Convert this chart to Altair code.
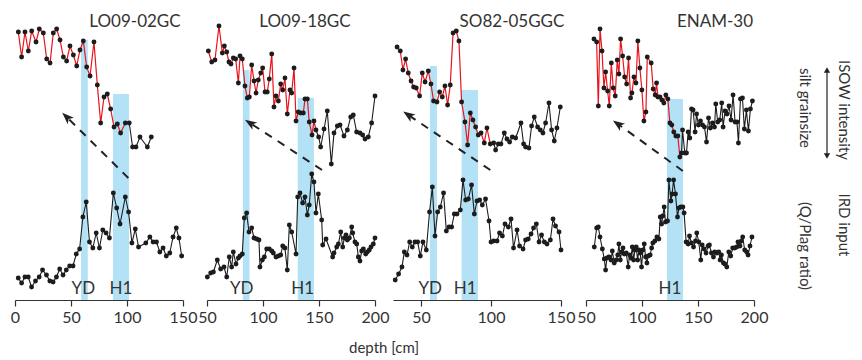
import altair as alt
import pandas as pd

FONT = "Lato"
TXT = "#333333"
BLUE = "#b3e2f6"
RED = "#e8141c"
DOT = "#1c1c1c"
H = 287
W = 168

# ---------------- data ----------------
cores = ["LO09-02GC", "LO09-18GC", "SO82-05GGC", "ENAM-30"]

p1_top_depth = [3.0, 5.9, 8.9, 11.9, 14.9, 18.8, 21.7, 25.3, 28.3, 31.3, 34.2, 37.2, 40.2, 43.2, 46.1, 49.1, 52.1, 55.1, 58.0, 61.0, 64.0, 67.0, 70.5, 73.5, 76.5, 79.5, 82.4, 85.4, 88.4, 91.4, 94.3, 98.5, 102.0, 105.0, 108.0, 111.6, 118.2, 121.7]
p1_top_val = [268, 243, 268, 249, 269, 258, 271, 267, 241, 237, 267, 271, 260, 243, 239, 254, 245, 234, 250, 259, 233, 224, 258, 215, 177, 203, 206, 191, 173, 176, 167, 177, 177, 153, 153, 163, 153, 163]
p1_bot_depth = [2.9, 5.9, 8.9, 11.8, 14.8, 18.3, 21.6, 24.6, 28.1, 31.1, 34.0, 37.0, 39.9, 42.9, 45.8, 48.8, 51.8, 54.7, 57.7, 60.6, 63.6, 66.5, 69.5, 72.5, 75.4, 78.4, 81.3, 84.3, 87.8, 90.8, 93.8, 98.5, 101.4, 104.4, 107.4, 110.3, 116.8, 120.4, 123.3, 126.3, 129.3, 132.2, 135.1, 138.2, 141.1, 144.0, 146.4, 148.8]
p1_bot_val = [22, 17, 23, 23, 13, 19, 23, 30, 25, 19, 18, 23, 31, 25, 30, 34, 34, 46, 51, 83, 98, 58, 52, 67, 52, 70, 67, 62, 107, 92, 76, 103, 88, 57, 71, 53, 57, 63, 58, 58, 48, 52, 44, 47, 63, 72, 62, 44]

p2_top_depth = [51.2, 54.2, 57.1, 60.7, 63.7, 65.5, 67.6, 69.6, 71.4, 73.5, 75.6, 78.0, 79.5, 81.5, 83.9, 86.0, 87.8, 89.9, 92.0, 93.8, 95.8, 98.0, 99.7, 101.8, 103.8, 105.6, 107.8, 109.8, 111.6, 113.7, 115.8, 117.6, 119.6, 121.7, 124.1, 125.6, 127.7, 129.5, 131.5, 133.7, 136.0, 137.5, 139.6, 141.3, 143.8, 145.5, 147.3, 149.7, 151.5, 154.5, 157.4, 161.0, 163.4, 166.4, 168.8, 172.3, 175.3, 178.3, 180.6, 183.6, 186.6, 189.0, 191.1, 194.0, 197.0, 200.0]
p2_top_val = [249, 238, 240, 274, 247, 254, 248, 238, 236, 242, 241, 217, 244, 241, 214, 202, 203, 235, 219, 207, 220, 227, 232, 208, 208, 221, 246, 193, 204, 199, 216, 210, 222, 186, 210, 207, 232, 179, 188, 187, 187, 201, 201, 178, 165, 179, 170, 163, 153, 171, 189, 136, 167, 174, 175, 164, 170, 183, 185, 168, 167, 165, 161, 163, 177, 204]
p2_bot_depth = [50.3, 53.3, 55.7, 59.2, 62.2, 65.2, 67.6, 69.9, 72.0, 73.5, 75.9, 78.0, 79.5, 81.5, 83.3, 85.4, 87.5, 89.9, 92.0, 94.4, 96.4, 97.3, 99.4, 101.2, 103.3, 105.6, 107.8, 109.2, 111.6, 113.7, 115.8, 117.6, 119.6, 121.7, 123.5, 125.6, 129.5, 131.0, 133.0, 135.4, 137.5, 139.6, 141.3, 143.5, 145.5, 147.3, 149.4, 152.4, 153.3, 156.3, 162.2, 163.4, 165.8, 167.3, 169.4, 171.2, 172.6, 174.1, 175.3, 177.1, 179.2, 180.1, 182.1, 183.7, 185.1, 186.6, 188.1, 189.6, 191.7, 193.1, 194.9, 196.4, 198.5, 200.0]
p2_bot_val = [23, 27, 28, 40, 31, 33, 23, 43, 33, 48, 36, 42, 44, 46, 82, 87, 68, 72, 62, 61, 60, 33, 40, 43, 51, 51, 49, 47, 43, 44, 45, 54, 52, 30, 75, 68, 46, 103, 107, 97, 103, 85, 95, 126, 118, 87, 106, 80, 55, 61, 43, 47, 53, 56, 68, 53, 62, 65, 60, 62, 73, 67, 58, 56, 43, 39, 49, 51, 46, 48, 50, 53, 56, 62]

p3_top_depth = [32.9, 35.2, 37.1, 39.0, 40.9, 42.9, 44.7, 46.6, 49.0, 50.9, 52.9, 55.2, 57.1, 59.0, 61.4, 63.3, 65.2, 67.1, 69.0, 70.9, 72.9, 75.2, 77.1, 79.0, 81.4, 83.3, 85.2, 87.1, 89.0, 90.9, 92.9, 95.2, 97.1, 99.5, 101.9, 103.3, 105.2, 107.1, 109.5, 111.4, 113.3, 115.2, 117.6, 121.4, 123.3, 124.7, 127.1, 129.0, 130.9, 133.3, 135.2, 137.1, 139.0, 141.4, 143.3, 145.2, 147.1, 149.5]
p3_top_val = [253, 249, 230, 241, 227, 219, 213, 212, 204, 227, 218, 229, 216, 199, 198, 208, 203, 214, 195, 215, 267, 269, 259, 198, 178, 155, 187, 180, 173, 165, 167, 157, 172, 156, 157, 150, 156, 156, 167, 161, 158, 163, 162, 177, 156, 153, 152, 174, 183, 173, 170, 167, 177, 197, 170, 159, 172, 193]
p3_bot_depth = [31.6, 34.0, 36.4, 38.1, 40.0, 41.9, 43.8, 45.7, 47.6, 49.5, 51.4, 53.8, 56.1, 58.1, 60.0, 61.9, 63.8, 66.1, 68.1, 70.0, 71.9, 73.8, 75.7, 78.1, 80.0, 81.9, 83.8, 86.1, 88.1, 90.0, 91.9, 93.8, 96.1, 98.6, 100.0, 101.9, 104.3, 106.1, 108.1, 110.0, 112.4, 114.3, 116.1, 118.6, 120.4, 122.9, 124.7, 126.6, 128.6, 130.4, 132.4, 134.3, 136.1, 138.1, 140.0, 142.4, 144.3, 146.1, 148.6, 150.0]
p3_bot_val = [20, 26, 33, 48, 45, 58, 53, 58, 58, 44, 58, 50, 88, 113, 64, 88, 93, 107, 69, 73, 73, 86, 86, 90, 120, 100, 101, 115, 86, 99, 100, 95, 101, 79, 58, 59, 59, 67, 64, 76, 73, 81, 52, 70, 54, 51, 60, 61, 66, 72, 76, 58, 65, 58, 56, 60, 81, 74, 68, 50]

p4_top_depth = [57.1, 59.5, 61.0, 62.5, 64.3, 66.0, 67.5, 69.3, 70.8, 72.6, 74.3, 76.1, 77.9, 79.4, 80.9, 82.7, 84.5, 86.3, 88.0, 89.8, 91.0, 92.8, 94.6, 96.3, 98.1, 99.9, 101.7, 103.5, 104.7, 108.2, 110.0, 111.8, 113.0, 114.2, 116.0, 117.7, 119.5, 121.3, 123.1, 124.9, 126.6, 128.4, 130.2, 132.0, 133.8, 135.3, 136.2, 138.2, 139.7, 141.2, 142.7, 144.2, 145.6, 147.4, 148.7, 150.4, 152.2, 154.0, 155.8, 157.6, 159.4, 161.1, 162.9, 164.7, 165.9, 167.6, 169.4, 171.2, 172.4, 174.2, 175.9, 177.7, 179.5, 181.3, 183.1, 184.8, 186.1, 187.9, 189.7, 191.4, 193.2, 195.0, 196.8, 198.6]
p4_top_val = [261, 258, 194, 271, 249, 212, 228, 209, 194, 237, 212, 204, 240, 226, 261, 244, 223, 216, 242, 202, 207, 223, 217, 259, 232, 210, 179, 188, 243, 237, 211, 205, 217, 203, 203, 200, 197, 205, 201, 177, 175, 168, 164, 164, 143, 147, 170, 147, 147, 168, 162, 191, 190, 168, 186, 175, 179, 175, 173, 158, 182, 172, 177, 173, 196, 178, 180, 197, 173, 189, 186, 194, 180, 205, 178, 178, 157, 201, 202, 171, 190, 169, 191, 199]
p4_bot_depth = [57.4, 59.5, 61.0, 62.5, 64.6, 66.3, 67.5, 68.7, 70.5, 72.3, 73.5, 75.2, 77.0, 78.3, 79.4, 80.6, 81.8, 83.0, 84.2, 85.9, 87.7, 88.9, 90.1, 91.3, 92.5, 93.7, 94.8, 96.1, 97.2, 98.4, 99.6, 100.8, 102.0, 103.2, 104.4, 105.5, 107.3, 108.6, 109.7, 111.5, 113.3, 115.1, 116.3, 117.5, 118.6, 119.8, 121.0, 122.8, 124.0, 125.8, 126.9, 128.2, 129.9, 131.7, 132.9, 134.7, 136.5, 137.6, 139.4, 141.2, 142.4, 144.2, 146.0, 147.8, 148.9, 150.7, 152.5, 153.7, 155.4, 157.2, 159.0, 160.2, 162.0, 163.8, 165.0, 166.8, 168.5, 169.7, 170.9, 172.7, 173.9, 175.7, 177.5, 179.2, 181.0, 182.8, 184.6, 185.7, 187.5, 188.8, 189.9, 191.7, 193.5, 194.7, 196.4, 198.2]
p4_bot_val = [53, 72, 73, 63, 51, 41, 30, 42, 43, 40, 49, 37, 40, 45, 56, 40, 48, 52, 46, 47, 33, 45, 42, 53, 40, 50, 53, 40, 50, 47, 33, 50, 56, 43, 37, 44, 45, 52, 57, 59, 63, 61, 83, 76, 84, 93, 78, 79, 120, 99, 106, 120, 106, 83, 92, 93, 93, 87, 58, 56, 64, 57, 53, 59, 67, 58, 40, 55, 51, 47, 54, 55, 47, 43, 48, 47, 48, 40, 45, 37, 36, 33, 48, 44, 52, 52, 53, 58, 54, 59, 63, 50, 48, 45, 54, 63]

# depth at which the grain-size line changes from red to black
red_until = [102.0, 147.3, 101.9, 133.8]

x_domains = [[0, 150], [50, 200], [30, 150], [50, 200]]
x_ticks = [[0, 50, 100, 150], [50, 100, 150, 200], [50, 100, 150], [50, 100, 150, 200]]

# event bands: name, start depth, end depth, top of band, label depth
band_names = [["YD", "H1"], ["YD", "H1"], ["YD", "H1"], ["H1"]]
band_start = [[59.0, 87.5], [82.0, 131.0], [56.4, 79.0], [122.3]]
band_end = [[65.0, 101.8], [88.0, 145.5], [61.4, 90.7], [136.6]]
band_top = [[260, 206], [230, 202], [234, 210], [201]]
band_label_depth = [[61.0, 94.5], [81.0, 135.5], [56.6, 81.6], [125.0]]

# dashed arrows: tail (depth, value) -> head (depth, value), head rotation
arrow_tail_d = [101.2, 152.7, 99.5, 136.5]
arrow_tail_v = [122, 130, 130, 129]
arrow_head_d = [46.1, 88.4, 40.9, 78.5]
arrow_head_v = [183, 177, 185, 176]
arrow_angle = [314, 303, 304, 306]

title_x = [120, 98, 119, 129]

ARROW = "M0,-1L0.72,0.95L0,0.45L-0.72,0.95Z"


def panel(i):
    xs = alt.Scale(domain=x_domains[i], nice=False, zero=False)
    ys = alt.Scale(domain=[0, H], nice=False, zero=False)
    xax = alt.Axis(values=x_ticks[i], title=None, grid=False, domainColor=TXT,
                   tickColor=TXT, labelColor=TXT, labelFont=FONT, labelFontSize=16,
                   tickSize=6, labelPadding=3, domainWidth=1.2, tickWidth=1.2,
                   labelFlush=False, labelOverlap=False)
    X = lambda f: alt.X(f, type="quantitative", scale=xs, axis=xax)
    Y = lambda f: alt.Y(f, type="quantitative", scale=ys, axis=None)

    top = pd.DataFrame({"d": globals()[f"p{i+1}_top_depth"], "v": globals()[f"p{i+1}_top_val"]})
    bot = pd.DataFrame({"d": globals()[f"p{i+1}_bot_depth"], "v": globals()[f"p{i+1}_bot_val"]})
    cut = red_until[i]
    bands = pd.DataFrame({"n": band_names[i], "s": band_start[i], "e": band_end[i],
                          "t": band_top[i], "ld": band_label_depth[i], "z": 0, "ly": 11})
    arr = pd.DataFrame({"x1": [arrow_tail_d[i]], "y1": [arrow_tail_v[i]],
                        "x2": [arrow_head_d[i]], "y2": [arrow_head_v[i]]})
    one = pd.DataFrame({"t": [cores[i]]})

    layers = [
        alt.Chart(bands).mark_rect(color=BLUE).encode(x=X("s"), x2="e:Q", y=Y("z"), y2="t:Q"),
        alt.Chart(bands).mark_text(font=FONT, fontSize=17, color=TXT).encode(
            x=X("ld"), y=Y("ly"), text="n:N"),
        alt.Chart(top[top.d <= cut]).mark_line(color=RED, strokeWidth=1.2).encode(x=X("d"), y=Y("v")),
        alt.Chart(top[top.d >= cut]).mark_line(color=DOT, strokeWidth=1.1).encode(x=X("d"), y=Y("v")),
        alt.Chart(bot).mark_line(color=DOT, strokeWidth=1.1).encode(x=X("d"), y=Y("v")),
        alt.Chart(pd.concat([top, bot])).mark_circle(size=24, color=DOT, opacity=1).encode(
            x=X("d"), y=Y("v")),
        alt.Chart(arr).mark_rule(color="#222222", strokeWidth=2, strokeDash=[8, 7]).encode(
            x=X("x1"), y=Y("y1"), x2="x2:Q", y2="y2:Q"),
        alt.Chart(arr).mark_point(shape=ARROW, filled=True, size=150, angle=arrow_angle[i],
                                  color="#222222", opacity=1).encode(x=X("x2"), y=Y("y2")),
        alt.Chart(one).mark_text(font=FONT, fontSize=17, color=TXT).encode(
            x=alt.value(title_x[i]), y=alt.value(9), text="t:N"),
    ]
    if i == 1:
        layers.append(alt.Chart(pd.DataFrame({"t": ["depth [cm]"]})).mark_text(
            font=FONT, fontSize=15, color=TXT).encode(
            x=alt.value(W + 9), y=alt.value(H + 48), text="t:N"))
    return alt.layer(*layers).properties(width=W, height=H)


ann_text = ["silt grainsize", "ISOW intensity", "(Q/Plag ratio)", "IRD input"]
ann_x = [29, 68, 29, 68]
ann_y = [95, 97, 233, 212]
ann_size = [15, 15, 15, 15]


def annotations():
    layers = []
    for t, x, y, s in zip(ann_text, ann_x, ann_y, ann_size):
        layers.append(alt.Chart(pd.DataFrame({"t": [t]})).mark_text(
            font=FONT, fontSize=s, color=TXT, angle=90).encode(
            x=alt.value(x), y=alt.value(y), text="t:N"))
    d = pd.DataFrame({"a": [0]})
    layers.append(alt.Chart(d).mark_rule(color="#222222", strokeWidth=1.2).encode(
        x=alt.value(51), y=alt.value(58), y2=alt.value(142)))
    layers.append(alt.Chart(d).mark_point(shape="triangle-up", filled=True, size=40,
                                          color="#222222", opacity=1).encode(
        x=alt.value(51), y=alt.value(57)))
    layers.append(alt.Chart(d).mark_point(shape="triangle-down", filled=True, size=40,
                                          color="#222222", opacity=1).encode(
        x=alt.value(51), y=alt.value(143)))
    return alt.layer(*layers).properties(width=76, height=H)


g4 = alt.hconcat(panel(3), annotations(), spacing=22, bounds="flush")
g3 = alt.hconcat(panel(2), g4, spacing=25, bounds="flush")
g2 = alt.hconcat(panel(1), g3, spacing=18, bounds="flush")
chart = alt.hconcat(panel(0), g2, spacing=24, bounds="flush").properties(
    padding={"left": 2, "top": 5, "right": 0, "bottom": 0}
).configure_view(strokeWidth=0)

chart.save("out.html", embed_options={"renderer": "svg", "actions": False})
